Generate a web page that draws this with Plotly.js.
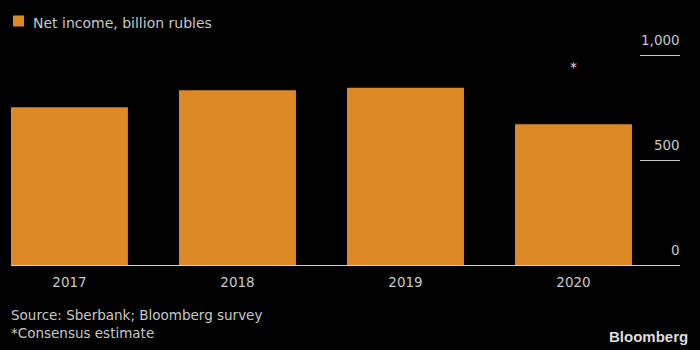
<!DOCTYPE html>
<html>
<head>
<meta charset="utf-8">
<script src="https://cdn.plot.ly/plotly-3.0.1.min.js"></script>
<style>html,body{margin:0;padding:0;background:#000;}#chart{width:700px;height:350px;}</style>
</head>
<body>
<div id="chart"></div>
<script>
const years = ['2017', '2018', '2019', '2020'];
const netIncome = [751, 833, 845, 671];
const seriesName = 'Net income, billion rubles';
const yTicks = [0, 500, 1000];
const yTickLabels = ['0', '500', '1,000'];
const noteYear = '2020';
const noteValue = 943;
const noteText = '*';

const barColor = '#dd8a26';
const txt = '#c8c8c8';
const fontFam = 'DejaVu Sans, sans-serif';

const data = [{
  type: 'bar',
  x: years,
  y: netIncome,
  name: seriesName,
  marker: {color: barColor},
  showlegend: false,
  hoverinfo: 'skip'
}];

const layout = {
  width: 700, height: 350,
  paper_bgcolor: '#000', plot_bgcolor: '#000',
  margin: {l: 11, r: 20, t: 53, b: 85, autoexpand: false},
  bargap: 0.304,
  font: {family: fontFam, size: 13.5, color: txt},
  showlegend: false,
  xaxis: {
    type: 'category',
    range: [-0.348, 3.634],
    showgrid: false, zeroline: false,
    showline: true, linecolor: '#d0d0d0', linewidth: 1,
    ticks: '', ticklabelstandoff: 5,
    tickfont: {family: fontFam, size: 13.5, color: txt},
    fixedrange: true
  },
  yaxis: {
    range: [0, 1010],
    side: 'right',
    showgrid: false, zeroline: false, showline: false,
    tickmode: 'array', tickvals: yTicks, ticktext: yTickLabels,
    ticklabelposition: 'inside',
    ticklabeloverflow: 'allow',
    ticks: 'inside', ticklen: 40, tickcolor: '#c8c8c8', tickwidth: 1,
    ticklabelshift: -15,
    ticklabelstandoff: -40,
    tickfont: {family: fontFam, size: 13.5, color: txt},
    fixedrange: true
  },
  shapes: [
    {type: 'rect', xref: 'paper', yref: 'paper', x0: 0.003, x1: 0.0194, y0: 1.125, y1: 1.177,
     fillcolor: barColor, line: {width: 0}}
  ],
  annotations: [
    {x: years.indexOf(noteYear), y: noteValue, xref: 'x', yref: 'y', text: noteText, showarrow: false,
     font: {family: fontFam, size: 14, color: '#dddddd'}},
    {xref: 'paper', yref: 'paper', x: 0.0299, y: 1.142, xanchor: 'left', yanchor: 'middle',
     text: seriesName, showarrow: false,
     font: {family: fontFam, size: 14, color: txt}},
    {xref: 'paper', yref: 'paper', x: -0.003, y: -0.188, xanchor: 'left', yanchor: 'top', align: 'left',
     text: 'Source: Sberbank; Bloomberg survey<br>*Consensus estimate', showarrow: false,
     font: {family: fontFam, size: 13.5, color: txt}},
    {xref: 'paper', yref: 'paper', x: 1.015, y: -0.337, xanchor: 'right', yanchor: 'middle',
     text: '<b>Bloomberg</b>', showarrow: false,
     font: {family: 'Liberation Sans, Arial, sans-serif', size: 15, color: '#dddddd'}}
  ]
};

Plotly.newPlot('chart', data, layout, {displayModeBar: false, staticPlot: true});
</script>
</body>
</html>
